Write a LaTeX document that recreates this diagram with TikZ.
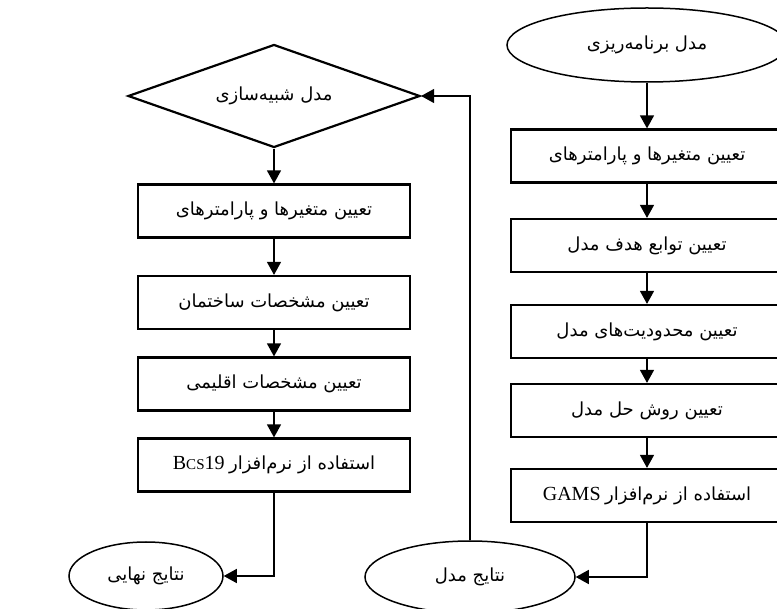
\documentclass[tikz,border=0pt]{standalone}
\usepackage{fontspec}
\setmainfont{Liberation Serif}
\newfontfamily\fafont[Script=Arabic]{DejaVu Sans}
\TeXXeTstate=1
\usetikzlibrary{shapes.geometric,arrows.meta}
\newcommand{\fatxt}[1]{{\fafont\beginR #1\endR}}
\newcommand{\mixtxt}[2]{\beginR{\fafont #1} \beginL{\fontsize{20}{22}\selectfont #2}\endL\endR}
\begin{document}
\begin{tikzpicture}[x=1pt,y=-1pt,
  every node/.style={font=\fontsize{18}{21}\selectfont},
  boxnode/.style={draw, line width=2.2pt, minimum width=272, minimum height=53, inner sep=0pt},
  ovalnode/.style={draw, line width=1.5pt, ellipse, inner sep=0pt},
  decnode/.style={draw, line width=2.2pt, diamond, shape aspect=2.83, minimum width=292, minimum height=103, inner sep=0pt},
  arr/.style={line width=1.4pt, -{Triangle[length=13pt,width=14pt]}}
]
\clip (0,0) rectangle (777,609);
\fill[white] (0,0) rectangle (777,609);

% left column
\node[decnode] (D) at (274,96) {\fatxt{مدل شبیه‌سازی}};
\node[boxnode] (L1) at (274,211) {\fatxt{تعیین متغیرها و پارامترهای}};
\node[boxnode] (L2) at (274,302.5) {\fatxt{تعیین مشخصات ساختمان}};
\node[boxnode] (L3) at (274,384) {\fatxt{تعیین مشخصات اقلیمی}};
\node[boxnode] (L4) at (274,465) {\mixtxt{استفاده از نرم‌افزار}{B{\fontsize{15}{17}\selectfont CS}19}};
\node[ovalnode, minimum width=154, minimum height=68] (E1) at (146,576) {\fatxt{نتایج نهایی}};

% right column
\node[ovalnode, minimum width=280, minimum height=74] (T) at (647,45) {\fatxt{مدل برنامه‌ریزی}};
\node[boxnode] (R1) at (647,156) {\fatxt{تعیین متغیرها و پارامترهای}};
\node[boxnode] (R2) at (647,245.5) {\fatxt{تعیین توابع هدف مدل}};
\node[boxnode] (R3) at (647,331.5) {\fatxt{تعیین محدودیت‌های مدل}};
\node[boxnode] (R4) at (647,410.5) {\fatxt{تعیین روش حل مدل}};
\node[boxnode] (R5) at (647,495.5) {\mixtxt{استفاده از نرم‌افزار}{GAMS}};
\node[ovalnode, minimum width=210, minimum height=72] (E2) at (470,577) {\fatxt{نتایج مدل}};

% connectors
\draw[arr] (D.south) -- (L1.north);
\draw[arr] (L1.south) -- (L2.north);
\draw[arr] (L2.south) -- (L3.north);
\draw[arr] (L3.south) -- (L4.north);
\draw[arr] (L4.south) |- (E1.east);

\draw[arr] (T.south) -- (R1.north);
\draw[arr] (R1.south) -- (R2.north);
\draw[arr] (R2.south) -- (R3.north);
\draw[arr] (R3.south) -- (R4.north);
\draw[arr] (R4.south) -- (R5.north);
\draw[arr] (R5.south) |- (E2.east);
\draw[arr] (E2.north) |- (D.east);
\end{tikzpicture}
\end{document}
